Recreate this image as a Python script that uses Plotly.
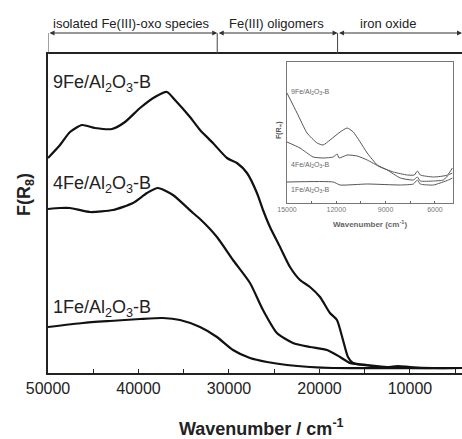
import plotly.graph_objects as go

# ---- main spectra (wavenumber cm-1, F(R) arbitrary units) ----
w9 = [50000, 48670, 47570, 46240, 44810, 42930, 41490, 39830, 38180, 36850, 35970, 34310,
      33200, 31770, 30220, 29120, 28010, 26910, 26240, 25470, 24360, 23260, 22150, 21050,
      19940, 18840, 18070, 17400, 16850, 16300, 14750, 12540, 11320, 10000, 7460, 4250]
f9 = [215, 228, 241, 248, 245, 244, 251, 265, 276, 281, 273, 256,
      243, 230, 215, 210, 200, 180, 163, 146, 126, 106, 93, 86,
      76, 60, 53, 33, 16, 10, 8, 6, 7, 6, 5, 5]

w4 = [50000, 48670, 47570, 45360, 42820, 40610, 39060, 37850, 36190, 33980, 33200, 31330,
      29560, 27680, 26240, 24700, 22930, 21050, 19170, 17730, 16630, 15190, 12980, 10000, 4250]
f4 = [164, 165, 165, 161, 163, 170, 180, 185, 178, 160, 154, 136,
      113, 90, 63, 40, 30, 26, 23, 16, 10, 8, 6, 5, 5]

w1 = [50000, 46130, 43150, 39830, 37300, 35410, 33200, 31330, 29560, 27680, 25800, 23590,
      21050, 18510, 4250]
f1 = [46, 50, 52, 54, 55, 53, 46, 36, 23, 15, 11, 8, 6, 5, 5]

# ---- inset spectra ----
iw9 = [15000, 14390, 13780, 13170, 12800, 12380, 11770, 11340, 10970, 10550, 10120, 9510,
       8900, 8110, 7310, 7070, 6890, 6090, 5480, 5180, 4940]
if9 = [110, 90, 70, 60, 58, 63, 71, 75, 71, 61, 50, 38, 33, 25, 23, 26, 22, 22, 23, 28, 30]

iw4 = [15000, 14210, 13410, 12800, 12190, 11950, 11830, 11340, 10730, 10120, 9330, 8530,
       7680, 7250, 7070, 6890, 6090, 5240, 4940]
if4 = [61, 55, 46, 45, 46, 49, 45, 48, 47, 43, 36, 31, 28, 28, 32, 28, 26, 28, 35]

iw1 = [15000, 12190, 11770, 10120, 8110, 7310, 7070, 6890, 6090, 5180, 4940]
if1 = [21, 21, 18, 19, 18, 19, 23, 19, 18, 23, 25]

labels = ["9Fe/Al<sub>2</sub>O<sub>3</sub>-B", "4Fe/Al<sub>2</sub>O<sub>3</sub>-B",
          "1Fe/Al<sub>2</sub>O<sub>3</sub>-B"]
regions = ["isolated Fe(III)-oxo species", "Fe(III) oligomers", "iron oxide"]
region_bounds = [50000, 31300, 18000, 4250]
main_ticks = [50000, 40000, 30000, 20000, 10000]
inset_ticks = [15000, 12000, 9000, 6000]

FONT = "Liberation Sans, Arial, sans-serif"
fig = go.Figure()

for w, f in [(w9, f9), (w4, f4), (w1, f1)]:
    fig.add_trace(go.Scatter(x=w, y=f, mode="lines", line=dict(color="#111", width=2.2, shape="spline", smoothing=0.6),
                             showlegend=False, hoverinfo="skip"))
for w, f in [(iw9, if9), (iw4, if4), (iw1, if1)]:
    fig.add_trace(go.Scatter(x=w, y=f, mode="lines", xaxis="x2", yaxis="y2",
                             line=dict(color="#555", width=1, shape="spline", smoothing=0.5),
                             showlegend=False, hoverinfo="skip"))

W, H = 462, 439
L, R, T, B = 48, 0, 54, 66
pw, ph = W - L - R, H - T - B

def px_x(p):
    return (p - L) / pw

def px_y(p):
    return (H - B - p) / ph

fig.update_layout(
    width=W, height=H, margin=dict(l=L, r=R, t=T, b=B),
    paper_bgcolor="white", plot_bgcolor="white",
    font=dict(family=FONT, color="#222"),
    xaxis=dict(range=[50000, 4250], tickvals=main_ticks, tickformat="d", ticks="inside", ticklen=4,
               tickwidth=1.3, tickcolor="#222", showline=True, linecolor="#222", linewidth=1.5,
               mirror=True, showgrid=False, zeroline=False, tickfont=dict(size=16, color="#222"),
               minor=dict(tickvals=[45000, 35000, 25000, 15000, 5000], ticks="inside", ticklen=4,
                          tickcolor="#222", tickwidth=1.3)),
    yaxis=dict(range=[0, 319], showticklabels=False, ticks="", showline=True, linecolor="#222",
               linewidth=1.5, showgrid=False, zeroline=False),
    xaxis2=dict(domain=[px_x(287), px_x(453)], anchor="y2", range=[15000, 4900], tickvals=inset_ticks,
                tickformat="d", ticks="inside", ticklen=2.5, tickwidth=0.8, tickcolor="#666",
                showline=True, linecolor="#777", linewidth=1, mirror=True, showgrid=False,
                zeroline=False, tickfont=dict(size=7, color="#777"),
                minor=dict(tickvals=[13500, 10500, 7500], ticks="inside", ticklen=2.5, tickcolor="#666")),
    yaxis2=dict(domain=[px_y(203), px_y(62)], anchor="x2", range=[0, 141], showticklabels=False,
                ticks="", showline=True, linecolor="#777", linewidth=1, mirror=True,
                showgrid=False, zeroline=False),
)

ann = []
# axis titles
ann.append(dict(text="<b>Wavenumber / cm<sup>-1</sup></b>", xref="paper", yref="paper",
                x=px_x(261), y=px_y(427), xanchor="center", yanchor="middle", showarrow=False,
                font=dict(size=18, color="#222")))
ann.append(dict(text="<b>F(R<sub>8</sub>)</b>", xref="paper", yref="paper", textangle=-90,
                x=px_x(25), y=px_y(195), xanchor="center", yanchor="middle", showarrow=False,
                font=dict(size=18, color="#222")))
# curve labels
for lab, ypix in zip(labels, [83, 184, 308]):
    ann.append(dict(text=lab, xref="paper", yref="paper", x=px_x(51), y=px_y(ypix), xanchor="left",
                    yanchor="middle", showarrow=False, font=dict(size=18, color="#222")))
# inset labels
for lab, ypix in zip(labels, [92, 165, 190]):
    ann.append(dict(text=lab, xref="paper", yref="paper", x=px_x(289), y=px_y(ypix), xanchor="left",
                    yanchor="middle", showarrow=False, font=dict(size=7, color="#666")))
ann.append(dict(text="<b>F(R<sub>∞</sub>)</b>", xref="paper", yref="paper", textangle=-90,
                x=px_x(279), y=px_y(130), xanchor="center", yanchor="middle", showarrow=False,
                font=dict(size=7, color="#555")))
ann.append(dict(text="<b>Wavenumber (cm<sup>-1</sup>)</b>", xref="paper", yref="paper",
                x=px_x(370), y=px_y(224), xanchor="center", yanchor="middle", showarrow=False,
                font=dict(size=8, color="#666")))

# region brackets
shapes = []
for b in region_bounds[:3]:
    shapes.append(dict(type="line", xref="x", yref="paper", x0=b, x1=b, y0=1, y1=px_y(33),
                       line=dict(color="#444", width=1)))
centers = [131, 276, 388]
for i, lab in enumerate(regions):
    ann.append(dict(text="", x=region_bounds[i + 1], y=px_y(33), xref="x", yref="paper",
                    ax=region_bounds[i], ay=0, axref="x", ayref="pixel", showarrow=True,
                    arrowhead=2, arrowside="end+start", arrowsize=1, arrowwidth=1,
                    arrowcolor="#333", standoff=0, startstandoff=0))
    ann.append(dict(text=lab, xref="paper", yref="paper", x=px_x(centers[i]), y=px_y(23),
                    xanchor="center", yanchor="middle", showarrow=False,
                    font=dict(size=13, color="#222")))

fig.update_layout(annotations=ann, shapes=shapes)
fig.write_html("out.html")
